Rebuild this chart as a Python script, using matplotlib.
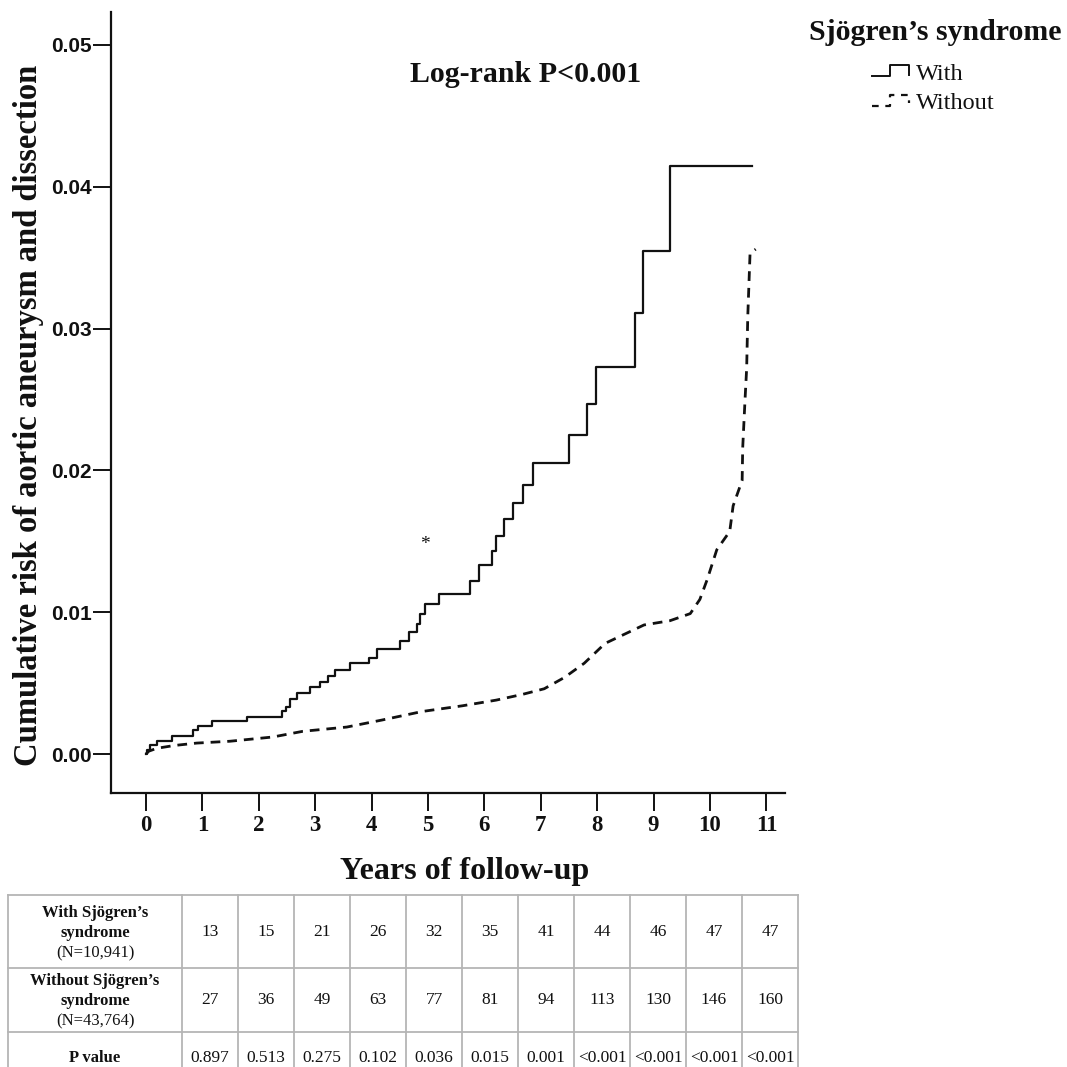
import matplotlib
matplotlib.use("Agg")
import matplotlib.pyplot as plt
from matplotlib.lines import Line2D
import numpy as np

# ---------------- data ----------------
with_t = [0, 0.02, 0.07, 0.19, 0.46, 0.83, 0.92, 1.17, 1.79, 2.41, 2.48, 2.55, 2.67,
          2.90, 3.08, 3.22, 3.35, 3.61, 3.95, 4.09, 4.50, 4.67, 4.81, 4.85, 4.94,
          5.20, 5.75, 5.91, 6.14, 6.20, 6.34, 6.50, 6.69, 6.87, 7.50, 7.82, 7.98,
          8.67, 8.81, 9.29, 10.74]
with_y = [0, 0.0003, 0.0006, 0.0009, 0.0013, 0.0017, 0.0020, 0.0023, 0.0026, 0.0030,
          0.0033, 0.0039, 0.0043, 0.0047, 0.0051, 0.0055, 0.0059, 0.0064, 0.0068,
          0.0074, 0.0080, 0.0086, 0.0092, 0.0099, 0.0106, 0.0113, 0.0122, 0.0133,
          0.0143, 0.0154, 0.0166, 0.0177, 0.0190, 0.0205, 0.0225, 0.0247, 0.0273,
          0.0311, 0.0355, 0.0415, 0.0415]

without_t = [0, 0.05, 0.19, 0.50, 0.90, 1.49, 2.25, 2.78, 3.56, 4.19, 4.90, 5.61, 6.21,
             6.67, 7.06, 7.42, 7.77, 8.14, 8.83, 9.29, 9.65, 9.82, 9.95, 10.12, 10.35,
             10.41, 10.57, 10.58, 10.62, 10.65, 10.67, 10.71, 10.81]
without_y = [0, 0.0002, 0.0004, 0.0006, 0.00077, 0.0009, 0.0012, 0.0016, 0.0019, 0.0024,
             0.0030, 0.0034, 0.0038, 0.0042, 0.0046, 0.0054, 0.0064, 0.0078, 0.0091,
             0.0094, 0.0099, 0.0109, 0.0123, 0.0144, 0.0157, 0.0175, 0.0193, 0.0216,
             0.0249, 0.0272, 0.0309, 0.0353, 0.0356]

x_ticks = list(range(0, 12))
y_ticks = [0.00, 0.01, 0.02, 0.03, 0.04, 0.05]
y_tick_labels = ["0.00", "0.01", "0.02", "0.03", "0.04", "0.05"]

row_labels = [("With Sjögren’s\nsyndrome", "(N=10,941)"),
              ("Without Sjögren’s\nsyndrome", "(N=43,764)"),
              ("P value", "")]
with_counts = ["13", "15", "21", "26", "32", "35", "41", "44", "46", "47", "47"]
without_counts = ["27", "36", "49", "63", "77", "81", "94", "113", "130", "146", "160"]
p_values = ["0.897", "0.513", "0.275", "0.102", "0.036", "0.015", "0.001",
            "<0.001", "<0.001", "<0.001", "<0.001"]

SERIF = "Liberation Serif"
SANS = "Liberation Sans"
W = H = 1067
INK = "#111111"

fig = plt.figure(figsize=(10.67, 10.67), dpi=100)
fig.patch.set_facecolor("white")

def fx(px):
    return px / W

def fy(py):
    return 1 - py / H

# ---------------- main axes ----------------
ax_l, ax_r, ax_t, ax_b = 111, 785, 12, 793
ax = fig.add_axes([fx(ax_l), fy(ax_b), (ax_r - ax_l) / W, (ax_b - ax_t) / H])
x0_px, x_step = 146, 56.4
y0_px, y_scale = 754, 14180.0
ax.set_xlim((ax_l - x0_px) / x_step, (ax_r - x0_px) / x_step)
ax.set_ylim(-(ax_b - y0_px) / y_scale, (y0_px - ax_t) / y_scale)

ax.step(with_t, with_y, where="post", color=INK, lw=1.6)
ax.plot(without_t, without_y, color=INK, lw=2.0, ls=(0, (3.5, 2.5)))
ax.text(4.95, 0.0148, "*", fontsize=14, ha="center", va="center",
        family=SERIF, color=INK)

for s in ["top", "right"]:
    ax.spines[s].set_visible(False)
for s in ["left", "bottom"]:
    ax.spines[s].set_linewidth(1.6)
    ax.spines[s].set_color(INK)

ax.set_xticks(x_ticks)
ax.set_xticklabels([str(v) for v in x_ticks], family=SERIF, fontweight="bold",
                   fontsize=16.5)
ax.set_yticks(y_ticks)
ax.set_yticklabels(y_tick_labels, family=SANS, fontweight="bold", fontsize=15)
ax.tick_params(axis="both", direction="out", length=13, width=1.4, colors=INK)
ax.tick_params(axis="x", pad=3)
ax.tick_params(axis="y", pad=1)

fig.text(fx(29), fy(415), "Cumulative risk of aortic aneurysm and dissection",
         family=SERIF, fontweight="bold", fontsize=23.5, rotation=90,
         ha="center", va="center", color=INK)
fig.text(fx(465), fy(872), "Years of follow-up", family=SERIF, fontweight="bold",
         fontsize=23, ha="center", va="center", color=INK)
fig.text(fx(526), fy(75), "Log-rank P<0.001", family=SERIF, fontweight="bold",
         fontsize=21.5, ha="center", va="center", color=INK)

# ---------------- legend ----------------
fig.text(fx(935), fy(33), "Sjögren’s syndrome", family=SERIF, fontweight="bold",
         fontsize=21.5, ha="center", va="center", color=INK)
fig.text(fx(916), fy(74), "With", family=SERIF, fontsize=17.5, ha="left",
         va="center", color=INK)
fig.text(fx(916), fy(103), "Without", family=SERIF, fontsize=17.5, ha="left",
         va="center", color=INK)
fig.lines.append(Line2D([fx(872), fx(890), fx(890), fx(909), fx(909)],
                        [fy(76), fy(76), fy(65), fy(65), fy(75)],
                        transform=fig.transFigure, color=INK, lw=1.4))
fig.lines.append(Line2D([fx(872), fx(890), fx(890), fx(909), fx(909)],
                        [fy(106), fy(106), fy(95), fy(95), fy(103)],
                        transform=fig.transFigure, color=INK, lw=1.6,
                        ls=(0, (3, 3))))

# ---------------- table ----------------
t_left, t_right, t_top = 8, 798, 895
row_h = [73, 64, 52]
first_w = 174
n_cols = len(with_counts)
col_w = (t_right - t_left - first_w) / n_cols
t_bottom = t_top + sum(row_h)
tax = fig.add_axes([fx(t_left), fy(t_bottom), (t_right - t_left) / W,
                    (t_bottom - t_top) / H])
tax.set_xlim(t_left, t_right)
tax.set_ylim(t_bottom, t_top)
tax.axis("off")

grid_c = "#b5b5b5"
ys = [t_top]
for h in row_h:
    ys.append(ys[-1] + h)
xs = [t_left, t_left + first_w] + [t_left + first_w + col_w * (i + 1) for i in range(n_cols)]
for yv in ys:
    tax.plot([t_left, t_right], [yv, yv], color=grid_c, lw=1.3, clip_on=False)
for xv in xs:
    tax.plot([xv, xv], [t_top, t_bottom], color=grid_c, lw=1.3, clip_on=False)

rows = [with_counts, without_counts, p_values]
text_y = [932, 1000, 1058]
for r, vals in enumerate(rows):
    yc = text_y[r]
    for c, v in enumerate(vals):
        xc = (xs[c + 1] + xs[c + 2]) / 2
        tax.text(xc, yc, v, family=SERIF, fontsize=12.5, ha="center",
                 va="center", color=INK)
    lab_bold, lab_reg = row_labels[r]
    xl = (xs[0] + xs[1]) / 2
    if lab_reg:
        tax.text(xl, yc - 9, lab_bold, family=SERIF, fontweight="bold",
                 fontsize=12, ha="center", va="center", linespacing=1.3,
                 color=INK)
        tax.text(xl, yc + 21, lab_reg, family=SERIF, fontsize=12, ha="center",
                 va="center", color=INK)
    else:
        tax.text(xl, yc, lab_bold, family=SERIF, fontweight="bold",
                 fontsize=12, ha="center", va="center", color=INK)

fig.savefig("out.png", dpi=100, facecolor="white")
